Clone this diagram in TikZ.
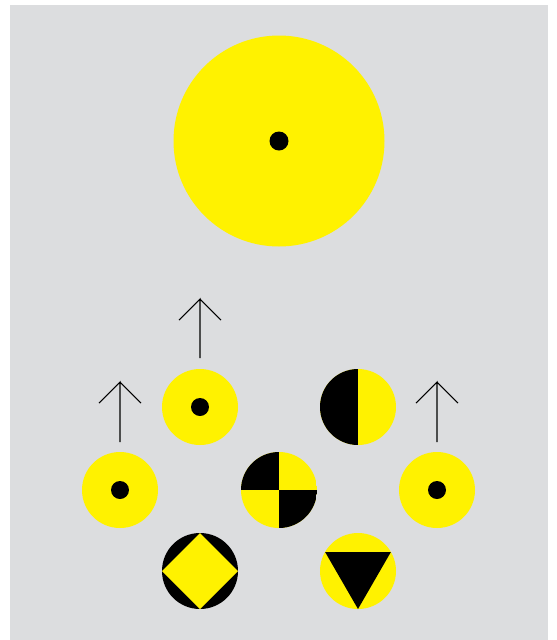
\documentclass[tikz,border=0pt]{standalone}
\definecolor{panel}{HTML}{DCDDDF}
\definecolor{marker}{HTML}{FFF200}

\begin{document}
\begin{tikzpicture}[x=0.02cm,y=-0.02cm]
  \tikzset{riser/.style={draw=black,line width=0.6pt}}
  \useasboundingbox (0,0) rectangle (556,640);
  \fill[panel] (10,5) rectangle (548,640);
  % ----- big target -----
  \fill[marker] (279,141) circle (105.5);
  \fill[black] (279,141) circle (9.5);
  % ----- dotted discs -----
  \foreach \cx/\cy in {200/407,120/490,437/490}{
    \fill[marker] (\cx,\cy) circle (38);
    \fill[black] (\cx,\cy) circle (9);}
  % ----- half disc -----
  \begin{scope}
   \clip (358,407) circle (38);
   \fill[marker] (320,369) rectangle (396,445);
   \fill[black] (320,369) rectangle (358,445);
  \end{scope}
  % ----- quartered disc -----
  \begin{scope}
   \clip (279,490) circle (38);
   \fill[marker] (241,452) rectangle (317,528);
   \fill[black] (241,452) rectangle (279,490);
   \fill[black] (279,490) rectangle (317,528);
  \end{scope}
  % ----- diamond disc -----
  \fill[black] (200,571) circle (38);
  \fill[marker] (162,571) -- (200,533) -- (238,571) -- (200,609) -- cycle;
  % ----- triangle disc -----
  \fill[marker] (358,571) circle (38);
  \fill[black] (325.1,552) -- (390.9,552) -- (358,609) -- cycle;
  % arrows
  \coordinate (up1 base) at (200,358);
  \coordinate (up1 tip) at (200,299);
  \coordinate (up2 base) at (120,442);
  \coordinate (up2 tip) at (120,382);
  \coordinate (up3 base) at (437,442);
  \coordinate (up3 tip) at (437,382);
  \foreach \a in {up1,up2,up3}{
    \draw[riser] (\a\space base) -- (\a\space tip) -- +(-21,21)
                 (\a\space tip) -- +(21,21);}
\end{tikzpicture}
\end{document}
